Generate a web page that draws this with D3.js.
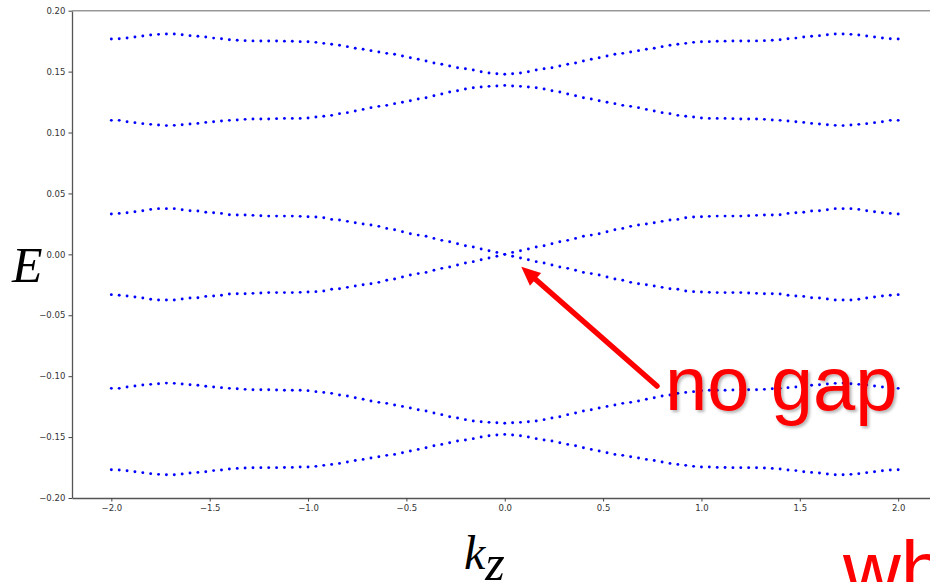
<!DOCTYPE html>
<html>
<head>
<meta charset="utf-8">
<script src="https://cdn.jsdelivr.net/npm/d3@7"></script>
<style>
  html, body { margin: 0; padding: 0; background: #fff; }
  svg { display: block; }
</style>
</head>
<body>
<svg id="chart" width="930" height="582"></svg>
<script>
// Momentum grid along k_z
const kz = [
  -2.00,-1.96,-1.92,-1.88,-1.84,-1.80,-1.76,-1.72,-1.68,-1.64,
  -1.60,-1.56,-1.52,-1.48,-1.44,-1.40,-1.36,-1.32,-1.28,-1.24,
  -1.20,-1.16,-1.12,-1.08,-1.04,-1.00,-0.96,-0.92,-0.88,-0.84,
  -0.80,-0.76,-0.72,-0.68,-0.64,-0.60,-0.56,-0.52,-0.48,-0.44,
  -0.40,-0.36,-0.32,-0.28,-0.24,-0.20,-0.16,-0.12,-0.08,-0.04,
   0.00,
   0.04, 0.08, 0.12, 0.16, 0.20, 0.24, 0.28, 0.32, 0.36, 0.40,
   0.44, 0.48, 0.52, 0.56, 0.60, 0.64, 0.68, 0.72, 0.76, 0.80,
   0.84, 0.88, 0.92, 0.96, 1.00, 1.04, 1.08, 1.12, 1.16, 1.20,
   1.24, 1.28, 1.32, 1.36, 1.40, 1.44, 1.48, 1.52, 1.56, 1.60,
   1.64, 1.68, 1.72, 1.76, 1.80, 1.84, 1.88, 1.92, 1.96, 2.00
];

// Energy bands, highest first
const band6 = [
  0.1768,0.1770,0.1776,0.1784,0.1792,0.1800,0.1806,0.1809,0.1809,0.1803,
  0.1795,0.1790,0.1784,0.1775,0.1770,0.1762,0.1757,0.1754,0.1752,0.1751,
  0.1751,0.1751,0.1750,0.1749,0.1746,0.1745,0.1740,0.1732,0.1724,0.1716,
  0.1705,0.1692,0.1683,0.1672,0.1661,0.1650,0.1642,0.1628,0.1614,0.1601,
  0.1587,0.1571,0.1560,0.1546,0.1532,0.1524,0.1513,0.1499,0.1489,0.1483,
  0.1478,
  0.1483,0.1489,0.1499,0.1513,0.1524,0.1532,0.1546,0.1560,0.1571,0.1587,
  0.1601,0.1614,0.1628,0.1642,0.1650,0.1661,0.1672,0.1683,0.1692,0.1705,
  0.1716,0.1724,0.1732,0.1740,0.1745,0.1746,0.1749,0.1750,0.1751,0.1751,
  0.1751,0.1752,0.1754,0.1757,0.1762,0.1770,0.1775,0.1784,0.1790,0.1795,
  0.1803,0.1809,0.1809,0.1806,0.1800,0.1792,0.1784,0.1776,0.1770,0.1768
];
const band5 = [
  0.1100,0.1100,0.1089,0.1081,0.1073,0.1067,0.1062,0.1057,0.1059,0.1064,
  0.1070,0.1075,0.1083,0.1089,0.1094,0.1100,0.1103,0.1108,0.1111,0.1111,
  0.1111,0.1114,0.1116,0.1116,0.1116,0.1119,0.1127,0.1133,0.1141,0.1155,
  0.1163,0.1177,0.1190,0.1204,0.1215,0.1223,0.1237,0.1248,0.1261,0.1275,
  0.1286,0.1302,0.1316,0.1333,0.1343,0.1357,0.1368,0.1374,0.1379,0.1382,
  0.1387,
  0.1382,0.1379,0.1374,0.1368,0.1357,0.1343,0.1333,0.1316,0.1302,0.1286,
  0.1275,0.1261,0.1248,0.1237,0.1223,0.1215,0.1204,0.1190,0.1177,0.1163,
  0.1155,0.1141,0.1133,0.1127,0.1119,0.1116,0.1116,0.1116,0.1114,0.1111,
  0.1111,0.1111,0.1108,0.1103,0.1100,0.1094,0.1089,0.1083,0.1075,0.1070,
  0.1064,0.1059,0.1057,0.1062,0.1067,0.1073,0.1081,0.1089,0.1100,0.1100
];
const band4 = [
  0.0331,0.0336,0.0342,0.0350,0.0358,0.0369,0.0375,0.0375,0.0375,0.0366,
  0.0358,0.0356,0.0345,0.0342,0.0336,0.0325,0.0323,0.0323,0.0320,0.0317,
  0.0314,0.0314,0.0314,0.0314,0.0312,0.0309,0.0306,0.0301,0.0287,0.0282,
  0.0271,0.0260,0.0249,0.0241,0.0230,0.0213,0.0202,0.0186,0.0169,0.0158,
  0.0148,0.0131,0.0115,0.0104,0.0087,0.0071,0.0060,0.0044,0.0030,0.0016,
  0.0000,
  0.0016,0.0030,0.0044,0.0060,0.0071,0.0087,0.0104,0.0115,0.0131,0.0148,
  0.0158,0.0169,0.0186,0.0202,0.0213,0.0230,0.0241,0.0249,0.0260,0.0271,
  0.0282,0.0287,0.0301,0.0306,0.0309,0.0312,0.0314,0.0314,0.0314,0.0314,
  0.0317,0.0320,0.0323,0.0323,0.0325,0.0336,0.0342,0.0345,0.0356,0.0358,
  0.0366,0.0375,0.0375,0.0375,0.0369,0.0358,0.0350,0.0342,0.0336,0.0331
];
const band3 = [
  -0.0331,-0.0336,-0.0342,-0.0350,-0.0358,-0.0369,-0.0375,-0.0375,-0.0375,-0.0366,
  -0.0358,-0.0356,-0.0345,-0.0342,-0.0336,-0.0325,-0.0323,-0.0323,-0.0320,-0.0317,
  -0.0314,-0.0314,-0.0314,-0.0314,-0.0312,-0.0309,-0.0306,-0.0301,-0.0287,-0.0282,
  -0.0271,-0.0260,-0.0249,-0.0241,-0.0230,-0.0213,-0.0202,-0.0186,-0.0169,-0.0158,
  -0.0148,-0.0131,-0.0115,-0.0104,-0.0087,-0.0071,-0.0060,-0.0044,-0.0030,-0.0016,
   0.0000,
  -0.0016,-0.0030,-0.0044,-0.0060,-0.0071,-0.0087,-0.0104,-0.0115,-0.0131,-0.0148,
  -0.0158,-0.0169,-0.0186,-0.0202,-0.0213,-0.0230,-0.0241,-0.0249,-0.0260,-0.0271,
  -0.0282,-0.0287,-0.0301,-0.0306,-0.0309,-0.0312,-0.0314,-0.0314,-0.0314,-0.0314,
  -0.0317,-0.0320,-0.0323,-0.0323,-0.0325,-0.0336,-0.0342,-0.0345,-0.0356,-0.0358,
  -0.0366,-0.0375,-0.0375,-0.0375,-0.0369,-0.0358,-0.0350,-0.0342,-0.0336,-0.0331
];
const band2 = [
  -0.1100,-0.1100,-0.1089,-0.1081,-0.1073,-0.1067,-0.1062,-0.1057,-0.1059,-0.1064,
  -0.1070,-0.1075,-0.1083,-0.1089,-0.1094,-0.1100,-0.1103,-0.1108,-0.1111,-0.1111,
  -0.1111,-0.1114,-0.1116,-0.1116,-0.1116,-0.1119,-0.1127,-0.1133,-0.1141,-0.1155,
  -0.1163,-0.1177,-0.1190,-0.1204,-0.1215,-0.1223,-0.1237,-0.1248,-0.1261,-0.1275,
  -0.1286,-0.1302,-0.1316,-0.1333,-0.1343,-0.1357,-0.1368,-0.1374,-0.1379,-0.1382,
  -0.1387,
  -0.1382,-0.1379,-0.1374,-0.1368,-0.1357,-0.1343,-0.1333,-0.1316,-0.1302,-0.1286,
  -0.1275,-0.1261,-0.1248,-0.1237,-0.1223,-0.1215,-0.1204,-0.1190,-0.1177,-0.1163,
  -0.1155,-0.1141,-0.1133,-0.1127,-0.1119,-0.1116,-0.1116,-0.1116,-0.1114,-0.1111,
  -0.1111,-0.1111,-0.1108,-0.1103,-0.1100,-0.1094,-0.1089,-0.1083,-0.1075,-0.1070,
  -0.1064,-0.1059,-0.1057,-0.1062,-0.1067,-0.1073,-0.1081,-0.1089,-0.1100,-0.1100
];
const band1 = [
  -0.1768,-0.1770,-0.1776,-0.1784,-0.1792,-0.1800,-0.1806,-0.1809,-0.1809,-0.1803,
  -0.1795,-0.1790,-0.1784,-0.1775,-0.1770,-0.1762,-0.1757,-0.1754,-0.1752,-0.1751,
  -0.1751,-0.1751,-0.1750,-0.1749,-0.1746,-0.1745,-0.1740,-0.1732,-0.1724,-0.1716,
  -0.1705,-0.1692,-0.1683,-0.1672,-0.1661,-0.1650,-0.1642,-0.1628,-0.1614,-0.1601,
  -0.1587,-0.1571,-0.1560,-0.1546,-0.1532,-0.1524,-0.1513,-0.1499,-0.1489,-0.1483,
  -0.1478,
  -0.1483,-0.1489,-0.1499,-0.1513,-0.1524,-0.1532,-0.1546,-0.1560,-0.1571,-0.1587,
  -0.1601,-0.1614,-0.1628,-0.1642,-0.1650,-0.1661,-0.1672,-0.1683,-0.1692,-0.1705,
  -0.1716,-0.1724,-0.1732,-0.1740,-0.1745,-0.1746,-0.1749,-0.1750,-0.1751,-0.1751,
  -0.1751,-0.1752,-0.1754,-0.1757,-0.1762,-0.1770,-0.1775,-0.1784,-0.1790,-0.1795,
  -0.1803,-0.1809,-0.1809,-0.1806,-0.1800,-0.1792,-0.1784,-0.1776,-0.1770,-0.1768
];
const bands = [band6, band5, band4, band3, band2, band1];

// Axis ticks
const xTicks = [-2.0, -1.5, -1.0, -0.5, 0.0, 0.5, 1.0, 1.5, 2.0];
const yTicks = [-0.20, -0.15, -0.10, -0.05, 0.00, 0.05, 0.10, 0.15, 0.20];

// Annotation texts
const annotation = "no gap";
const cornerText = "wh";

const svg = d3.select("#chart");
svg.append("rect").attr("width", 930).attr("height", 582).attr("fill", "#fff");

const x = d3.scaleLinear().domain([-2.2, 2.2]).range([72, 937.5]);
const y = d3.scaleLinear().domain([-0.2, 0.2]).range([498, 10.7]);

const defs = svg.append("defs");
const shadow = defs.append("filter").attr("id", "shadow")
  .attr("x", "-10%").attr("y", "-10%").attr("width", "130%").attr("height", "140%");
shadow.append("feDropShadow")
  .attr("dx", 2).attr("dy", 2).attr("stdDeviation", 1.5)
  .attr("flood-color", "#000").attr("flood-opacity", 0.3);

// Axes
const tickFont = "DejaVu Sans, sans-serif";
const gx = svg.append("g").attr("transform", `translate(0,${y(-0.2)})`)
  .call(d3.axisBottom(x).tickValues(xTicks).tickFormat(d3.format(".1f"))
    .tickSize(3.5).tickPadding(3.5).tickSizeOuter(0));
const gy = svg.append("g").attr("transform", `translate(${x(-2.2)},0)`)
  .call(d3.axisLeft(y).tickValues(yTicks).tickFormat(d3.format(".2f"))
    .tickSize(3.5).tickPadding(3.2).tickSizeOuter(0));
[gx, gy].forEach(g => {
  g.selectAll("text").attr("font-family", tickFont).attr("font-size", 8.5).attr("fill", "#333");
  g.selectAll(".tick line").attr("stroke", "#444").attr("stroke-width", 1);
  g.select(".domain").attr("stroke", "#555").attr("stroke-width", 1.3);
});
// top spine
svg.append("line")
  .attr("x1", x(-2.2)).attr("x2", 930)
  .attr("y1", y(0.2)).attr("y2", y(0.2))
  .attr("stroke", "#999").attr("stroke-width", 1.6);

// Band dots
const pts = svg.append("g");
bands.forEach(b => {
  pts.selectAll(null).data(b).enter().append("circle")
    .attr("cx", (d, i) => x(kz[i]))
    .attr("cy", d => y(d))
    .attr("r", 1.45)
    .attr("fill", "#0000ff");
});

// Axis titles
svg.append("text")
  .attr("x", 12).attr("y", 282)
  .attr("font-family", "Liberation Serif, serif").attr("font-style", "italic")
  .attr("font-size", 50).attr("fill", "#000").text("E");
const kt = svg.append("text")
  .attr("x", 464).attr("y", 569)
  .attr("font-family", "Liberation Serif, serif").attr("font-style", "italic")
  .attr("font-size", 48).attr("fill", "#000");
kt.append("tspan").text("k");
kt.append("tspan").attr("dy", 11).attr("font-size", 50).text("z");

// Arrow pointing at the band crossing
const tip = [x(0) + 16.5, y(0) + 12.5];
const tail = [657, 386];
const ang = Math.atan2(tail[1] - tip[1], tail[0] - tip[0]);
const headLen = 19, headHalf = 8.5;
const ux = Math.cos(ang), uy = Math.sin(ang);
const base = [tip[0] + ux * headLen, tip[1] + uy * headLen];
svg.append("line")
  .attr("x1", tail[0]).attr("y1", tail[1])
  .attr("x2", base[0] - ux * 0.5).attr("y2", base[1] - uy * 0.5)
  .attr("stroke", "#ff0000").attr("stroke-width", 5.5).attr("stroke-linecap", "round");
svg.append("path")
  .attr("d", d3.line()([
    tip,
    [base[0] - uy * headHalf, base[1] + ux * headHalf],
    [base[0] + uy * headHalf, base[1] - ux * headHalf]
  ]) + "Z")
  .attr("fill", "#ff0000");

// Slide annotations
svg.append("text")
  .attr("x", 665).attr("y", 410)
  .attr("font-family", "Liberation Sans, Arial, sans-serif")
  .attr("font-size", 76).attr("fill", "#ff0000")
  .attr("filter", "url(#shadow)")
  .text(annotation);
svg.append("text")
  .attr("x", 843).attr("y", 597)
  .attr("font-family", "Liberation Sans, Arial, sans-serif")
  .attr("font-size", 80).attr("fill", "#ff0000")
  .text(cornerText);
</script>
</body>
</html>
